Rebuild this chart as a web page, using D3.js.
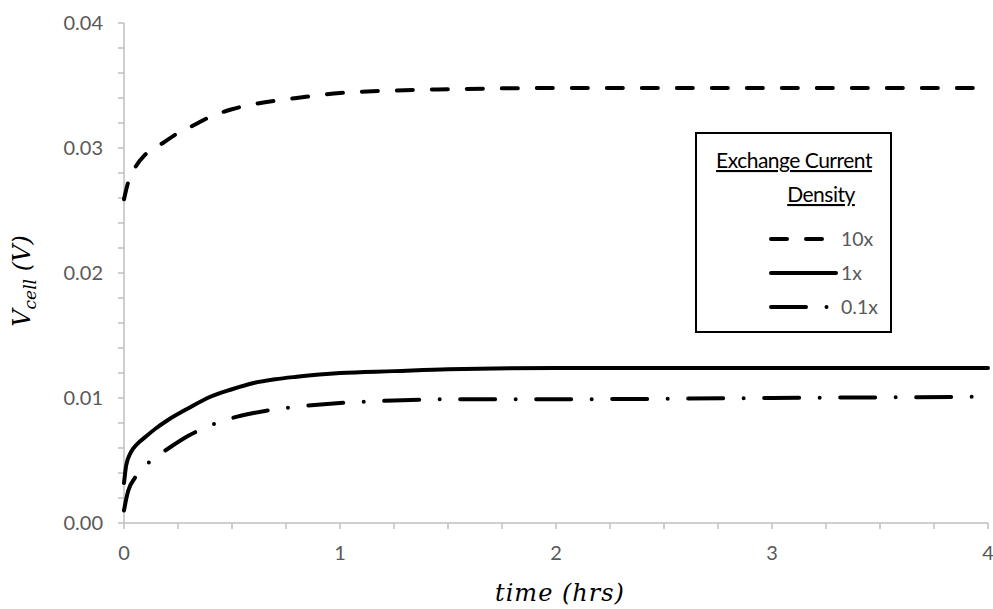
<!DOCTYPE html>
<html>
<head>
<meta charset="utf-8">
<script src="https://cdn.jsdelivr.net/npm/d3@7"></script>
<style>
  html, body { margin: 0; padding: 0; background: #fff; }
  svg { display: block; }
</style>
</head>
<body>
<svg id="chart" width="993" height="609"></svg>
<script>
// Cell voltage vs. time for three exchange current densities
const time10x = [0, 0.02, 0.05, 0.1, 0.18, 0.25, 0.32, 0.4, 0.5, 0.6, 0.8, 1.0, 1.25, 1.5, 2, 3, 4];
const vcell10x = [0.0259, 0.0273, 0.0284, 0.0295, 0.0304, 0.0312, 0.0318, 0.0325, 0.0331, 0.0335, 0.0340, 0.0344, 0.0346, 0.0347, 0.0348, 0.0348, 0.0348];

const time1x = [0, 0.01, 0.03, 0.06, 0.1, 0.15, 0.2, 0.3, 0.4, 0.5, 0.6, 0.7, 0.8, 1.0, 1.25, 1.5, 2, 3, 4];
const vcell1x = [0.0032, 0.0046, 0.0056, 0.0063, 0.0069, 0.0076, 0.0082, 0.0092, 0.0101, 0.0107, 0.0112, 0.0115, 0.0117, 0.0120, 0.01215, 0.0123, 0.0124, 0.0124, 0.0124];

const time01x = [0, 0.01, 0.02, 0.05, 0.1, 0.15, 0.2, 0.3, 0.4, 0.5, 0.6, 0.7, 0.8, 1.0, 1.25, 1.5, 2, 3, 4];
const vcell01x = [0.0010, 0.0019, 0.0026, 0.0036, 0.0046, 0.0053, 0.0059, 0.0070, 0.0078, 0.0084, 0.0088, 0.0091, 0.0093, 0.0096, 0.0098, 0.0099, 0.0099, 0.0100, 0.0101];

const seriesNames = ["10x", "1x", "0.1x"];
const yTickValues = [0, 0.01, 0.02, 0.03, 0.04];
const yTickLabels = ["0.00", "0.01", "0.02", "0.03", "0.04"];
const xTickValues = [0, 1, 2, 3, 4];
const xTickLabels = ["0", "1", "2", "3", "4"];
const legendTitle = ["Exchange Current", "Density"];

const dashStyles = {
  "10x": "16,19",
  "1x": null,
  "0.1x": "35,20.5,0,20.5"
};

const series = [
  { name: "10x", t: time10x, v: vcell10x },
  { name: "1x", t: time1x, v: vcell1x },
  { name: "0.1x", t: time01x, v: vcell01x }
];

const svg = d3.select("#chart");
const x = d3.scaleLinear().domain([0, 4]).range([124, 988]);
const y = d3.scaleLinear().domain([0, 0.04]).range([523, 23]);

const tickFont = "Lato, 'Open Sans', sans-serif";
const axisColor = "#bfbfbf";
const labelColor = "#595959";

// minor ticks
const yMinor = d3.range(0, 0.0401, 0.002);
const xMinor = d3.range(0, 4.001, 0.25);

const gy = svg.append("g");
gy.append("line").attr("x1", x(0)).attr("x2", x(0)).attr("y1", y(0)).attr("y2", y(0.04))
  .attr("stroke", axisColor).attr("stroke-width", 1.5);
gy.selectAll("line.tick").data(yMinor).join("line").attr("class", "tick")
  .attr("x1", x(0) - 6).attr("x2", x(0)).attr("y1", d => y(d)).attr("y2", d => y(d))
  .attr("stroke", axisColor).attr("stroke-width", 1.5);
gy.selectAll("text").data(yTickValues).join("text")
  .attr("x", x(0) - 21).attr("y", d => y(d)).attr("dy", "0.35em")
  .attr("text-anchor", "end").attr("fill", labelColor)
  .style("font-family", tickFont).style("font-size", "20px")
  .text((d, i) => yTickLabels[i]);

const gx = svg.append("g");
gx.append("line").attr("x1", x(0)).attr("x2", x(4)).attr("y1", y(0)).attr("y2", y(0))
  .attr("stroke", axisColor).attr("stroke-width", 1.5);
gx.selectAll("line.tick").data(xMinor).join("line").attr("class", "tick")
  .attr("x1", d => x(d)).attr("x2", d => x(d)).attr("y1", y(0)).attr("y2", y(0) + 6)
  .attr("stroke", axisColor).attr("stroke-width", 1.5);
gx.selectAll("text").data(xTickValues).join("text")
  .attr("x", d => x(d)).attr("y", y(0) + 30).attr("dy", "0.35em")
  .attr("text-anchor", "middle").attr("fill", labelColor)
  .style("font-family", tickFont).style("font-size", "20px")
  .text((d, i) => xTickLabels[i]);

// axis titles
const titleFont = "'DejaVu Serif', 'Liberation Serif', serif";
svg.append("text").attr("x", 560).attr("y", 601).attr("text-anchor", "middle")
  .style("font-family", titleFont).style("font-style", "italic").style("font-size", "24px")
  .style("letter-spacing", "1px")
  .attr("fill", "#000")
  .text("time (hrs)");

const yl = svg.append("text").attr("transform", "translate(30,281) rotate(-90)")
  .attr("text-anchor", "middle")
  .style("font-family", titleFont).style("font-style", "italic").style("font-size", "24px")
  .attr("fill", "#000");
yl.append("tspan").text("V");
yl.append("tspan").attr("dy", 6).style("font-size", "17px").text("cell");
yl.append("tspan").attr("dy", -6).text(" (V)");

// curves
const line = d3.line().x(d => x(d[0])).y(d => y(d[1])).curve(d3.curveMonotoneX);
series.forEach(s => {
  const pts = s.t.map((t, i) => [t, s.v[i]]);
  svg.append("path").datum(pts).attr("d", line)
    .attr("fill", "none").attr("stroke", "#000").attr("stroke-width", 4)
    .attr("stroke-linecap", "round")
    .attr("stroke-dasharray", dashStyles[s.name]);
});

// legend
const lg = svg.append("g");
lg.append("rect").attr("x", 696).attr("y", 133).attr("width", 195).attr("height", 199)
  .attr("fill", "#fff").attr("stroke", "#000").attr("stroke-width", 2);
const titlePos = [[794, 168], [821, 202]];
legendTitle.forEach((t, i) => {
  lg.append("text").attr("x", titlePos[i][0]).attr("y", titlePos[i][1])
    .attr("text-anchor", "middle").attr("fill", "#000")
    .style("font-family", tickFont).style("font-size", "21px")
    .style("letter-spacing", "-0.5px")
    .style("text-decoration", "underline")
    .text(t);
});
const legY = [239, 273, 307];
const legEnd = [823, 836, 828];
seriesNames.forEach((n, i) => {
  lg.append("line").attr("x1", 771).attr("x2", legEnd[i]).attr("y1", legY[i]).attr("y2", legY[i])
    .attr("stroke", "#000").attr("stroke-width", 4).attr("stroke-linecap", "round")
    .attr("stroke-dasharray", dashStyles[n]);
  lg.append("text").attr("x", 841).attr("y", legY[i]).attr("dy", "0.35em")
    .attr("fill", labelColor).style("font-family", tickFont).style("font-size", "19.5px")
    .text(n);
});
</script>
</body>
</html>
